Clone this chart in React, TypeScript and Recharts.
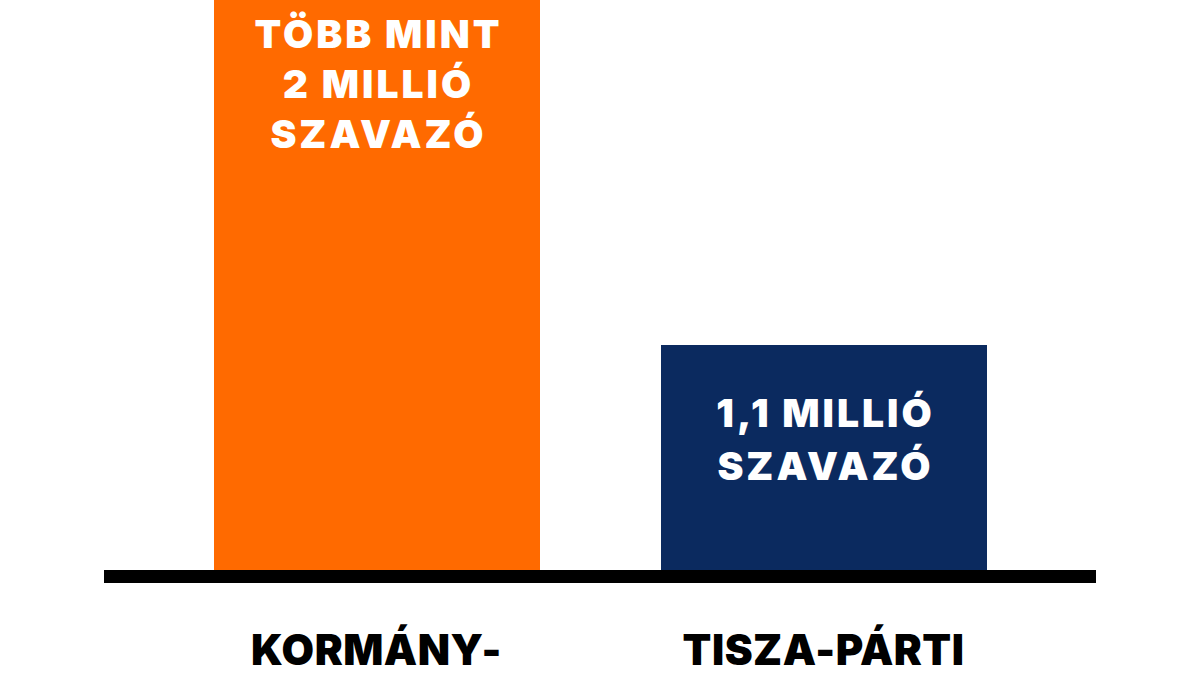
import { BarChart, Bar, XAxis, YAxis, Cell } from 'recharts';

const categories = ['KORMÁNY-', 'TISZA-PÁRTI'];
// bar lengths as drawn (millions); the orange bar runs past the top edge of the crop
const voters = [2.74, 1.1];
const barLabels = [
  ['TÖBB MINT', '2 MILLIÓ', 'SZAVAZÓ'],
  ['1,1 MILLIÓ', 'SZAVAZÓ'],
];

const COLORS = ['#ff6a00', '#0b2a5f'];
const FONT = 'Inter, "Noto Sans", sans-serif';

// baseline of the first label line, measured from the bar top
const LABEL_FIRST = [48, 82];
const LABEL_STEP = [50, 53];

const data = categories.map((name, i) => ({ name, voters: voters[i] }));

function BarText(props: any) {
  const { x, y, width, index } = props;
  const lines = barLabels[index] || [];
  const cx = x + width / 2 + 1.5;
  return (
    <text
      x={cx}
      y={y}
      textAnchor="middle"
      fill="#ffffff"
      fontFamily={FONT}
      fontWeight={900}
      fontSize={39}
      letterSpacing={3}
    >
      {lines.map((line, i) => (
        <tspan key={line} x={cx} y={y + LABEL_FIRST[index] + i * LABEL_STEP[index]}>
          {line}
        </tspan>
      ))}
    </text>
  );
}

function CategoryTick(props: any) {
  const { x, y, payload } = props;
  return (
    <text
      x={x}
      y={y + 80}
      textAnchor="middle"
      fill="#000000"
      fontFamily={FONT}
      fontWeight={900}
      fontSize={42}
      letterSpacing={0.5}
    >
      {payload.value}
    </text>
  );
}

export default function App() {
  return (
    <div style={{ position: 'absolute', left: 0, top: 0, width: 1200, height: 675, background: '#ffffff', overflow: 'hidden' }}>
      <BarChart
        width={1200}
        height={675}
        data={data}
        margin={{ top: 0, right: 104, bottom: 0, left: 104 }}
      >
        <XAxis
          dataKey="name"
          height={98.5}
          padding={{ left: 49, right: 49 }}
          axisLine={{ stroke: '#000000', strokeWidth: 13 }}
          tickLine={false}
          tick={<CategoryTick />}
          interval={0}
        />
        <YAxis hide domain={[0, 2.74]} allowDataOverflow />
        <Bar dataKey="voters" barSize={326} isAnimationActive={false} label={<BarText />}>
          {data.map((entry, index) => (
            <Cell key={`cell-${index}`} fill={COLORS[index % COLORS.length]} />
          ))}
        </Bar>
      </BarChart>
    </div>
  );
}
